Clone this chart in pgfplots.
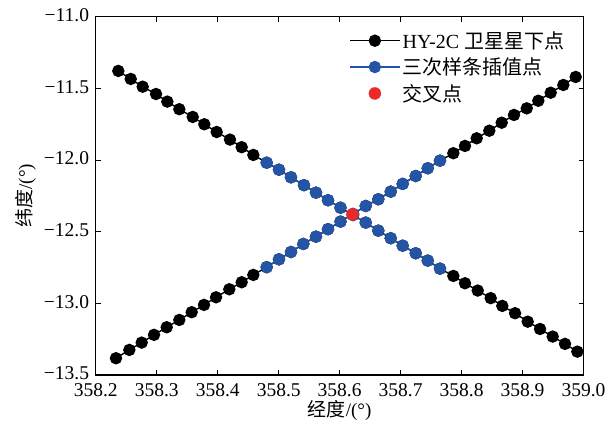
\documentclass[border=0pt]{standalone}
\usepackage{pgfplots}
\pgfplotsset{compat=1.18}
\usepackage{fontspec}
\setmainfont{Liberation Serif}
\newfontfamily\cjk{Noto Sans CJK SC}
\definecolor{myblue}{RGB}{36,84,166}
\definecolor{myred}{RGB}{236,40,40}
\begin{document}
\begin{tikzpicture}
\useasboundingbox (-95.8pt,-53pt) rectangle (517.2pt,375pt);
\begin{axis}[
  at={(0,0)}, anchor=south west,
  scale only axis, width=487.7pt, height=358.4pt,
  xmin=358.2, xmax=359.0, ymin=-13.5, ymax=-11.0,
  xtick={358.2,358.3,358.4,358.5,358.6,358.7,358.8,358.9,359.0},
  xticklabels={358.2,358.3,358.4,358.5,358.6,358.7,358.8,358.9,359.0},
  ytick={-13.5,-13,-12.5,-12,-11.5,-11},
  yticklabels={−13.5,−13.0,−12.5,−12.0,−11.5,−11.0},
  tick align=inside, major tick length=5pt,
  axis line style={line width=1.2pt},
  every tick/.style={black, line width=0.9pt},
  ticklabel style={font=\fontsize{19.5}{21}\selectfont, inner sep=0.5pt},
  xticklabel style={yshift=-7.5pt},
  yticklabel style={xshift=-6pt, yshift=1.5pt},
  xlabel={{\cjk 经度}/(°)}, ylabel={{\cjk 纬度}/(°)},
  label style={font=\fontsize{19}{21}\selectfont},
  x label style={at={(axis description cs:0.5,0)}, anchor=center, yshift=-35pt},
  y label style={at={(axis description cs:0,0.5)}, anchor=center, yshift=70pt},
  legend image code/.code={\draw[mark repeat=2,mark phase=2,#1] plot coordinates {(0pt,0pt) (25pt,0pt) (50pt,0pt)};},
  legend style={draw=none, fill=none, at={(axis description cs:0.515,0.97)}, anchor=north west,
    font=\fontsize{20}{22}\selectfont, row sep=4pt, inner sep=2pt},
  legend cell align=left,
]
% descending satellite track
\addplot[black, line width=1.4pt, mark=*, mark size=5.5pt] coordinates {
(358.2369,-11.379) (358.2573,-11.435) (358.2769,-11.489) (358.2988,-11.540)
(358.3173,-11.593) (358.3370,-11.646) (358.3590,-11.700) (358.3780,-11.751)
(358.3983,-11.805) (358.4201,-11.858) (358.4393,-11.911) (358.4584,-11.965)
(358.4803,-12.019) (358.5005,-12.068) (358.5202,-12.121) (358.5415,-12.176)
(358.5612,-12.228) (358.5809,-12.281) (358.6014,-12.333) (358.6219,-12.384)
(358.6428,-12.437) (358.6634,-12.493) (358.6838,-12.546) (358.7034,-12.598)
(358.7248,-12.651) (358.7445,-12.702) (358.7646,-12.758) (358.7865,-12.809)
(358.8056,-12.860) (358.8265,-12.911) (358.8478,-12.964) (358.8668,-13.018)
(358.8877,-13.069) (358.9085,-13.128) (358.9287,-13.179) (358.9495,-13.232)
(358.9697,-13.283) (358.9899,-13.337)};
\addlegendentry{HY-2C {\cjk 卫星星下点}}
% ascending satellite track
\addplot[black, line width=1.4pt, mark=*, mark size=5.5pt, forget plot] coordinates {
(358.2331,-13.383) (358.2550,-13.325) (358.2753,-13.274) (358.2955,-13.220)
(358.3163,-13.167) (358.3370,-13.116) (358.3573,-13.062) (358.3775,-13.011)
(358.3972,-12.958) (358.4190,-12.902) (358.4393,-12.853) (358.4584,-12.802)
(358.4803,-12.748) (358.5005,-12.693) (358.5202,-12.642) (358.5404,-12.586)
(358.5612,-12.535) (358.5809,-12.483) (358.6014,-12.430) (358.6219,-12.377)
(358.6428,-12.321) (358.6634,-12.274) (358.6838,-12.221) (358.7034,-12.167)
(358.7248,-12.112) (358.7445,-12.058) (358.7646,-12.005) (358.7865,-11.953)
(358.8056,-11.902) (358.8248,-11.849) (358.8455,-11.796) (358.8658,-11.740)
(358.8860,-11.686) (358.9069,-11.640) (358.9259,-11.587) (358.9462,-11.531)
(358.9669,-11.477) (358.9872,-11.421)};
% spline interpolated points, descending
\addplot[myblue, line width=1.4pt, mark=*, mark size=5.5pt] coordinates {
(358.4803,-12.019) (358.5005,-12.068) (358.5202,-12.121) (358.5415,-12.176)
(358.5612,-12.228) (358.5809,-12.281) (358.6014,-12.333) (358.6219,-12.384)
(358.6428,-12.437) (358.6634,-12.493) (358.6838,-12.546) (358.7034,-12.598)
(358.7248,-12.651) (358.7445,-12.702) (358.7646,-12.758)};
\addlegendentry{{\cjk 三次样条插值点}}
% spline interpolated points, ascending
\addplot[myblue, line width=1.4pt, mark=*, mark size=5.5pt, forget plot] coordinates {
(358.4803,-12.748) (358.5005,-12.693) (358.5202,-12.642) (358.5404,-12.586)
(358.5612,-12.535) (358.5809,-12.483) (358.6014,-12.430) (358.6219,-12.377)
(358.6428,-12.321) (358.6634,-12.274) (358.6838,-12.221) (358.7034,-12.167)
(358.7248,-12.112) (358.7445,-12.058) (358.7646,-12.005)};
% crossover point
\addplot[only marks, myred, mark=*, mark size=6pt] coordinates {(358.621,-12.380)};
\addlegendentry{{\cjk 交叉点}}
\end{axis}
\end{tikzpicture}
\end{document}
